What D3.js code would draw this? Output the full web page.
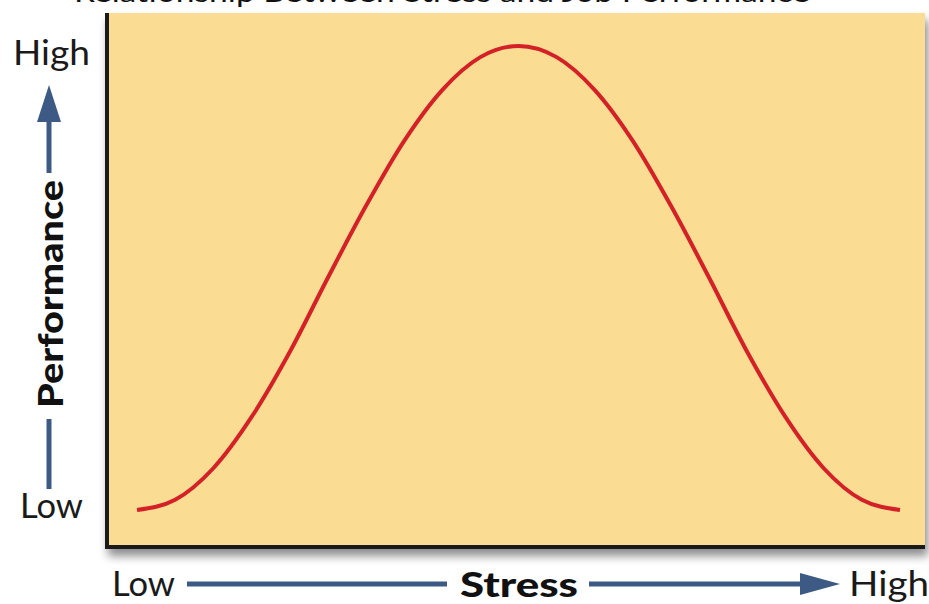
<!DOCTYPE html>
<html><head><meta charset="utf-8">
<script src="https://cdn.jsdelivr.net/npm/d3@7"></script>
<style>html,body{margin:0;padding:0;background:#fff;overflow:hidden}</style>
</head><body>
<script>
// ---- data ----
const title = "Relationship Between Stress and Job Performance";
const stress = [0,0.5,1,1.5,2,2.5,3,3.5,4,4.5,5,5.5,6,6.5,7,7.5,8,8.5,9,9.5,10];
const performance = [0,2.2,9,20,34,50,65.5,79.5,90.5,97.6,100,97.6,90.5,79.5,65.5,50,34,20,9,2.2,0];
const xAxisLabels = ["Low","High"];
const yAxisLabels = ["Low","High"];
const xAxisTitle = "Stress";
const yAxisTitle = "Performance";

const W = 929, H = 604;
const svg = d3.select("body").append("svg").attr("width",W).attr("height",H);
const defs = svg.append("defs");
const f = defs.append("filter").attr("id","sh").attr("x","-10%").attr("y","-10%").attr("width","130%").attr("height","130%");
f.append("feDropShadow").attr("dx",3).attr("dy",7).attr("stdDeviation",5).attr("flood-color","#000").attr("flood-opacity",0.45);

const font = "Lato, 'Open Sans', sans-serif";
const frame = {x0:105, x1:925, y0:13, y1:549};

// title (cut off at top, as in reference)
svg.append("text").attr("x",74).attr("y",2).attr("font-family",font).attr("font-size",26)
  .attr("fill","#111").attr("textLength",736).attr("lengthAdjust","spacingAndGlyphs").text(title);

// plot frame
svg.append("rect").attr("x",frame.x0).attr("y",frame.y0).attr("width",frame.x1-frame.x0).attr("height",frame.y1-frame.y0)
  .attr("fill","#FADC92").attr("filter","url(#sh)");
svg.append("path").attr("d",`M${frame.x0+2},${frame.y0}V${frame.y1-2}H${frame.x1}`)
  .attr("fill","none").attr("stroke","#1a1a1a").attr("stroke-width",4);

const x = d3.scaleLinear().domain([0,10]).range([137,900]);
const y = d3.scaleLinear().domain([0,100]).range([510,46]);

const line = d3.line().x((d,i)=>x(stress[i])).y(d=>y(d)).curve(d3.curveMonotoneX);
svg.append("path").datum(performance).attr("d",line).attr("fill","none")
  .attr("stroke","#D42027").attr("stroke-width",4).attr("stroke-linecap","butt");

// y axis labels
svg.append("text").attr("x",13).attr("y",65).attr("font-family",font).attr("font-size",34).attr("fill","#1a1a1a")
  .attr("textLength",77).attr("lengthAdjust","spacingAndGlyphs").text(yAxisLabels[1]);
svg.append("text").attr("x",20).attr("y",518).attr("font-family",font).attr("font-size",34).attr("fill","#1a1a1a")
  .attr("textLength",63).attr("lengthAdjust","spacingAndGlyphs").text(yAxisLabels[0]);
// y arrow
const ac = "#3d5a85";
svg.append("line").attr("x1",49).attr("x2",49).attr("y1",489).attr("y2",419).attr("stroke",ac).attr("stroke-width",5);
svg.append("line").attr("x1",49).attr("x2",49).attr("y1",173).attr("y2",120).attr("stroke",ac).attr("stroke-width",5);
svg.append("path").attr("d","M49,85L61,122L37,122Z").attr("fill",ac);
svg.append("text").attr("transform","translate(63,408) rotate(-90)").attr("font-family",font).attr("font-weight",900)
  .attr("font-size",35).attr("fill","#111").attr("textLength",228).attr("lengthAdjust","spacingAndGlyphs").text(yAxisTitle);

// x axis labels
svg.append("text").attr("x",112).attr("y",596).attr("font-family",font).attr("font-size",34).attr("fill","#1a1a1a")
  .attr("textLength",63).attr("lengthAdjust","spacingAndGlyphs").text(xAxisLabels[0]);
svg.append("text").attr("x",849).attr("y",596).attr("font-family",font).attr("font-size",34).attr("fill","#1a1a1a")
  .attr("textLength",80).attr("lengthAdjust","spacingAndGlyphs").text(xAxisLabels[1]);
svg.append("line").attr("x1",187).attr("x2",447).attr("y1",584).attr("y2",584).attr("stroke",ac).attr("stroke-width",5);
svg.append("line").attr("x1",589).attr("x2",805).attr("y1",584).attr("y2",584).attr("stroke",ac).attr("stroke-width",5);
svg.append("path").attr("d","M840,584L800,573L800,595Z").attr("fill",ac);
svg.append("text").attr("x",460).attr("y",597).attr("font-family",font).attr("font-weight",900)
  .attr("font-size",35).attr("fill","#111").attr("textLength",118).attr("lengthAdjust","spacingAndGlyphs").text(xAxisTitle);
</script>
</body></html>
